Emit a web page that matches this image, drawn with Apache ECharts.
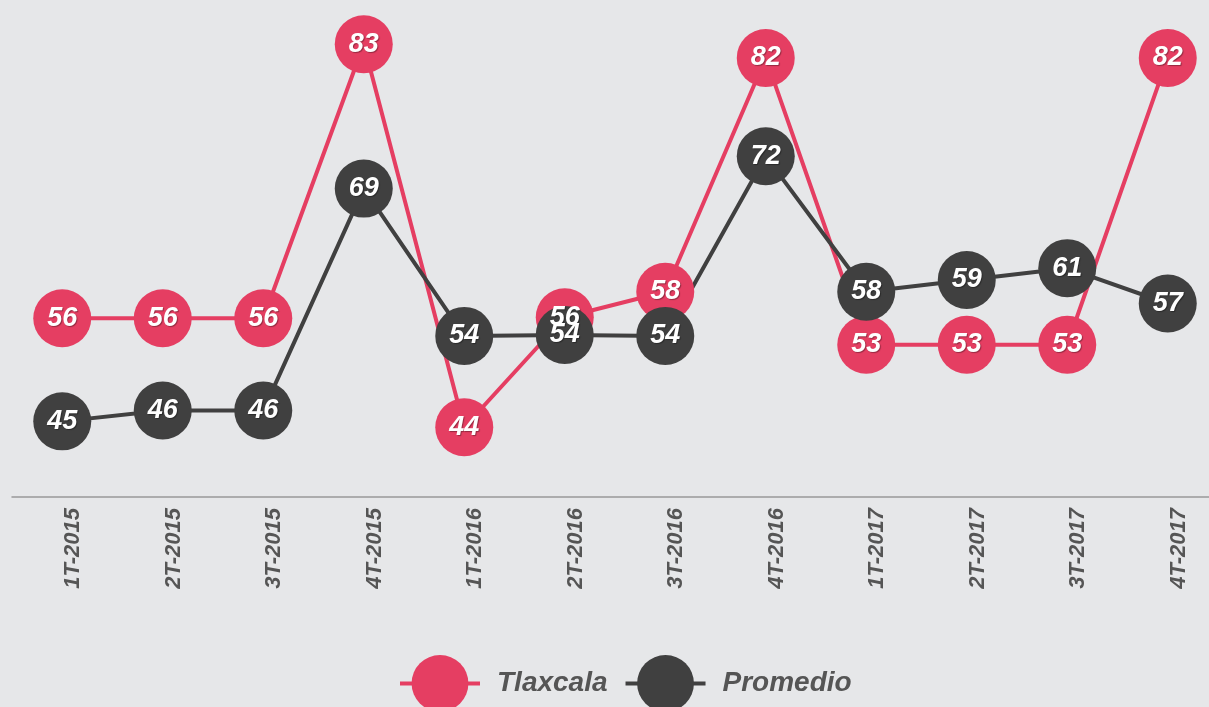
<!DOCTYPE html>
<html>
<head>
<meta charset="utf-8">
<script src="https://cdn.jsdelivr.net/npm/echarts@6/dist/echarts.min.js"></script>
<style>
  html, body { margin: 0; padding: 0; background: #e6e7e9; }
  #chart { width: 1209px; height: 707px; }
</style>
</head>
<body>
<div id="chart"></div>
<script>
// trimestres
const categories = ['1T-2015', '2T-2015', '3T-2015', '4T-2015', '1T-2016', '2T-2016',
  '3T-2016', '4T-2016', '1T-2017', '2T-2017', '3T-2017', '4T-2017'];
// valores (la etiqueta muestra el entero)
const tlaxcala = [55.5, 55.5, 55.5, 83.4, 44.4, 55.6, 58.2, 82.0, 52.8, 52.8, 52.8, 82.0];
const promedio = [45.0, 46.1, 46.1, 68.7, 53.7, 53.8, 53.7, 72.0, 58.2, 59.4, 60.6, 57.0];

const PINK = '#e53e62';
const DARK = '#404040';
const FONT = '"Liberation Sans", Arial, sans-serif';

function serie(name, data, color) {
  return {
    name,
    type: 'line',
    data,
    symbol: 'circle',
    symbolSize: 58,
    lineStyle: { color, width: 4 },
    itemStyle: { color },
    label: {
      show: true,
      position: 'inside',
      color: '#fff',
      fontFamily: FONT,
      fontWeight: 'bold',
      fontStyle: 'italic',
      fontSize: 27,
      textShadowColor: 'rgba(0,0,0,0.35)',
      textShadowBlur: 1,
      textShadowOffsetX: 1,
      textShadowOffsetY: 1,
      formatter: p => Math.round(p.value)
    },
    emphasis: { disabled: true },
    animation: false
  };
}

const chart = echarts.init(document.getElementById('chart'));
chart.setOption({
  backgroundColor: '#e6e7e9',
  grid: { left: 12, right: -9, top: 0, bottom: 210, containLabel: false, outerBoundsMode: 'none' },
  xAxis: {
    type: 'category',
    data: categories,
    boundaryGap: true,
    axisLine: { lineStyle: { color: '#999', width: 1.5 } },
    axisTick: { show: false },
    axisLabel: {
      rotate: 90,
      margin: 11,
      verticalAlign: 'top',
      color: '#555',
      fontFamily: FONT,
      fontWeight: 'bold',
      fontStyle: 'italic',
      fontSize: 22
    }
  },
  yAxis: {
    type: 'value',
    min: 37.3,
    max: 87.9,
    show: false,
    splitLine: { show: false }
  },
  legend: {
    left: 393,
    top: 650,
    itemWidth: 80,
    itemHeight: 71,
    itemGap: 16,
    lineStyle: { width: 4 },
    textStyle: {
      color: '#555',
      fontFamily: FONT,
      fontWeight: 'bold',
      fontStyle: 'italic',
      fontSize: 28,
      padding: [0, 0, 0, 12]
    },
    data: ['Tlaxcala', 'Promedio']
  },
  series: [
    serie('Tlaxcala', tlaxcala, PINK),
    serie('Promedio', promedio, DARK)
  ]
});
</script>
</body>
</html>
